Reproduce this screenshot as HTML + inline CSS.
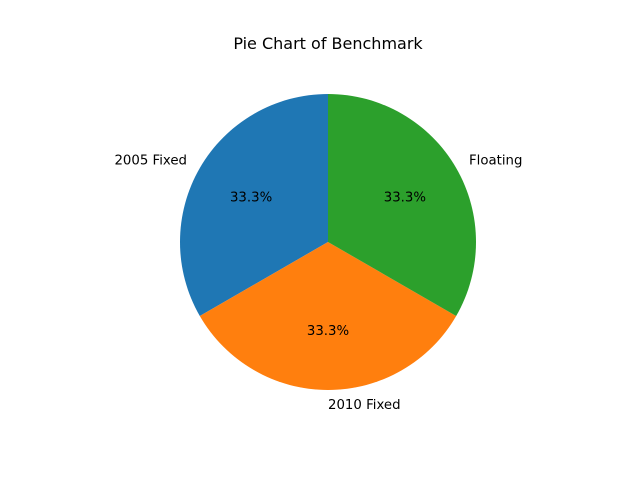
<!DOCTYPE html>
<html>
<head>
<meta charset="utf-8">
<style>
  html, body { margin: 0; padding: 0; background: #fff; }
  svg { display: block; font-family: "DejaVu Sans", "Liberation Sans", sans-serif; }
</style>
</head>
<body>
<svg id="chart" width="640" height="480" viewBox="0 0 640 480">
  <rect width="640" height="480" fill="#ffffff"/>
  <text x="328" y="49" text-anchor="middle" font-size="16" fill="#000">Pie Chart of Benchmark</text>
  <g id="slices"></g>
  <g id="labels"></g>
</svg>
<script>
const categories = ["2005 Fixed", "2010 Fixed", "Floating"];
const values = [1, 1, 1];
const colors = ["#1f77b4", "#ff7f0e", "#2ca02c"];

const cx = 328, cy = 242, r = 148;
const NS = "http://www.w3.org/2000/svg";
const slicesG = document.getElementById("slices");
const labelsG = document.getElementById("labels");
const total = values.reduce((a, b) => a + b, 0);

function pt(angDeg, rad) {
  const a = angDeg * Math.PI / 180;
  return [cx + rad * Math.cos(a), cy - rad * Math.sin(a)];
}

let start = 90;
values.forEach((v, i) => {
  const sweep = v / total * 360;
  const end = start + sweep;
  const [x1, y1] = pt(start, r);
  const [x2, y2] = pt(end, r);
  const large = sweep > 180 ? 1 : 0;
  const path = document.createElementNS(NS, "path");
  path.setAttribute("d", `M${cx},${cy} L${x1},${y1} A${r},${r} 0 ${large} 0 ${x2},${y2} Z`);
  path.setAttribute("fill", colors[i]);
  
  
  slicesG.appendChild(path);

  const mid = start + sweep / 2;
  const [lx, ly] = pt(mid, r * 1.1);
  const c = Math.cos(mid * Math.PI / 180);
  const lab = document.createElementNS(NS, "text");
  lab.setAttribute("x", lx);
  lab.setAttribute("y", ly + 4);
  lab.setAttribute("font-size", "13.3");
  lab.setAttribute("text-anchor", c >= -1e-6 ? "start" : "end");
  lab.textContent = categories[i];
  
  
  labelsG.appendChild(lab);

  const [px, py] = pt(mid, r * 0.6);
  const pct = document.createElementNS(NS, "text");
  pct.setAttribute("x", px);
  pct.setAttribute("y", py + 4);
  pct.setAttribute("font-size", "13.3");
  pct.setAttribute("text-anchor", "middle");
  pct.textContent = (v / total * 100).toFixed(1) + "%";
  
  
  labelsG.appendChild(pct);

  start = end;
});
</script>
</body>
</html>
